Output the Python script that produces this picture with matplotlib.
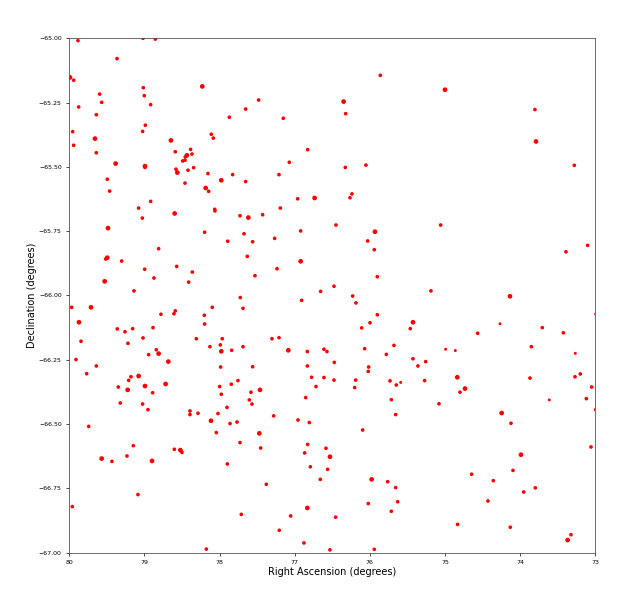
import numpy as np
import matplotlib
matplotlib.use('Agg')
import matplotlib.pyplot as plt

# star positions (degrees)
ra = [
    79.884, 79.019, 78.855, 79.365, 79.991, 79.942, 79.015, 79.596, 79.002, 79.569,
    78.917, 79.875, 79.640, 78.988, 79.024, 79.955, 79.658, 78.647, 79.942, 78.589,
    78.385, 79.640, 78.434, 78.367, 78.456, 78.491, 78.460, 79.383, 78.993, 78.993,
    78.580, 78.562, 78.420, 78.345, 79.494, 78.460, 79.463, 78.917, 79.077,
    78.230, 77.480, 77.653, 77.870, 77.152, 78.110, 78.083, 76.828, 77.072, 78.154,
    77.826, 77.209, 77.977, 77.653, 78.185, 78.145, 76.735, 76.961, 78.065, 77.192,
    75.861, 75.000, 76.349, 76.322, 76.052, 76.327, 76.238, 76.264,
    73.803, 73.789, 73.279,
    78.598, 79.028, 79.485, 78.811, 79.494, 79.516, 79.303, 78.571, 78.997, 78.363,
    78.873, 79.529, 78.411, 79.139, 79.968, 79.711, 78.589, 78.607, 78.780, 79.871,
    79.361, 79.157, 78.886, 79.259, 79.844, 79.219, 79.019, 78.309, 78.842, 78.811,
    78.944, 79.911, 78.682, 79.640, 79.769, 79.077, 79.179, 79.210,
    78.061, 77.728, 77.617, 77.427, 78.199, 77.675, 76.921, 77.892, 77.560, 77.267,
    77.631, 76.921, 77.236, 77.529, 76.655, 77.724, 76.908, 78.097, 77.688, 78.203,
    78.199, 77.964, 77.302, 77.209, 78.128, 77.990, 77.688, 77.977, 77.839, 77.085,
    76.832, 76.611, 76.571, 77.986, 77.560, 76.832, 77.755, 76.775, 76.611,
    76.451, 75.058, 75.932, 76.029, 75.941, 75.901, 76.477, 75.187, 76.229, 76.185,
    75.901, 75.998, 75.426, 76.109, 75.462, 75.679, 76.069, 74.991, 74.863, 75.781,
    76.473, 75.426, 75.257, 76.016, 75.360, 76.021, 76.477, 76.189, 75.732, 75.590,
    75.271, 74.836,
    73.102, 73.390, 74.135, 74.268, 74.565, 73.705, 73.425, 73.851, 73.266, 73.869,
    73.270, 73.199, 72.990,
    79.348, 79.223, 78.993, 78.891, 78.718, 79.321, 79.024, 78.953, 78.394, 78.394,
    78.287, 79.742, 79.148, 78.602, 78.522, 78.500, 79.232, 79.569, 79.432, 78.899,
    79.086, 79.960,
    77.999, 77.844, 77.462, 77.582, 76.717, 77.977, 77.604, 77.569, 76.854, 77.901,
    78.021, 78.114, 77.861, 77.768, 77.280, 76.956, 76.806, 78.043, 77.471, 77.728,
    77.453, 76.828, 76.868, 76.584, 76.531, 77.897, 76.792, 76.562, 76.659, 77.378,
    76.832, 77.711, 77.054, 77.205, 76.877, 78.176, 76.531,
    75.648, 76.202, 74.801, 75.714, 75.080, 75.657, 76.096, 75.976, 75.763, 75.657,
    75.630, 76.021, 75.714, 76.455, 74.832, 75.941,
    74.734, 73.048, 73.612, 73.119, 72.995, 74.246, 74.122, 73.057, 73.989, 74.645,
    74.095, 74.357, 73.798, 73.953, 74.428, 74.131, 73.323, 73.368,
]

dec = [
    -65.009, -65.000, -65.003, -65.079, -65.152, -65.163, -65.192, -65.217, -65.223, -65.249,
    -65.258, -65.267, -65.297, -65.338, -65.362, -65.363, -65.390, -65.397, -65.416, -65.441,
    -65.432, -65.445, -65.455, -65.450, -65.461, -65.477, -65.474, -65.487, -65.497, -65.502,
    -65.509, -65.522, -65.513, -65.503, -65.548, -65.563, -65.594, -65.634, -65.660,
    -65.187, -65.240, -65.275, -65.307, -65.311, -65.373, -65.388, -65.433, -65.482, -65.526,
    -65.530, -65.530, -65.552, -65.557, -65.582, -65.595, -65.621, -65.624, -65.665, -65.660,
    -65.144, -65.200, -65.246, -65.293, -65.493, -65.502, -65.605, -65.620,
    -65.277, -65.401, -65.494,
    -65.681, -65.699, -65.738, -65.818, -65.853, -65.858, -65.866, -65.887, -65.898, -65.909,
    -65.932, -65.945, -65.948, -65.982, -66.046, -66.046, -66.060, -66.071, -66.073, -66.104,
    -66.130, -66.129, -66.125, -66.141, -66.178, -66.186, -66.165, -66.168, -66.211, -66.226,
    -66.230, -66.249, -66.257, -66.274, -66.304, -66.313, -66.316, -66.330,
    -65.671, -65.690, -65.697, -65.686, -65.754, -65.760, -65.749, -65.789, -65.791, -65.778,
    -65.848, -65.867, -65.896, -65.923, -65.984, -66.008, -66.019, -66.046, -66.050, -66.077,
    -66.111, -66.168, -66.168, -66.164, -66.199, -66.192, -66.199, -66.217, -66.213, -66.213,
    -66.218, -66.209, -66.218, -66.278, -66.277, -66.274, -66.331, -66.318, -66.319,
    -65.726, -65.726, -65.752, -65.788, -65.822, -65.927, -65.964, -65.982, -66.002, -66.029,
    -66.075, -66.106, -66.104, -66.126, -66.129, -66.194, -66.207, -66.209, -66.214, -66.229,
    -66.260, -66.246, -66.257, -66.278, -66.274, -66.295, -66.329, -66.329, -66.332, -66.338,
    -66.331, -66.318,
    -65.805, -65.830, -66.003, -66.110, -66.147, -66.125, -66.145, -66.199, -66.225, -66.321,
    -66.316, -66.305, -66.072,
    -66.356, -66.367, -66.352, -66.378, -66.344, -66.418, -66.422, -66.444, -66.449, -66.463,
    -66.458, -66.509, -66.584, -66.598, -66.601, -66.610, -66.624, -66.634, -66.645, -66.643,
    -66.774, -66.821,
    -66.354, -66.345, -66.367, -66.376, -66.354, -66.384, -66.406, -66.422, -66.397, -66.435,
    -66.459, -66.487, -66.498, -66.492, -66.468, -66.484, -66.494, -66.533, -66.536, -66.572,
    -66.593, -66.579, -66.612, -66.594, -66.627, -66.655, -66.666, -66.676, -66.715, -66.734,
    -66.826, -66.851, -66.857, -66.913, -66.962, -66.986, -66.989,
    -66.348, -66.358, -66.376, -66.405, -66.421, -66.463, -66.523, -66.715, -66.724, -66.747,
    -66.802, -66.809, -66.839, -66.862, -66.890, -66.987,
    -66.362, -66.356, -66.406, -66.401, -66.444, -66.457, -66.497, -66.589, -66.619, -66.695,
    -66.680, -66.720, -66.748, -66.764, -66.799, -66.901, -66.930, -66.951,
]

# brightness class of each star: 1 faint, 2 normal, 3 bright
bright = [
    2, 2, 2, 2, 3, 2, 2, 2, 2, 2,
    2, 2, 2, 2, 2, 2, 3, 3, 2, 2,
    2, 2, 3, 2, 2, 2, 2, 3, 3, 2,
    2, 3, 2, 2, 2, 2, 2, 2, 2,
    3, 2, 2, 2, 2, 2, 2, 2, 2, 2,
    2, 2, 3, 2, 3, 2, 3, 2, 2, 2,
    2, 3, 3, 2, 2, 2, 2, 2,
    2, 3, 2,
    3, 2, 3, 2, 3, 2, 2, 2, 2, 2,
    2, 3, 2, 2, 2, 3, 2, 2, 2, 3,
    2, 2, 2, 2, 2, 2, 2, 2, 2, 3,
    2, 2, 3, 2, 2, 3, 2, 2,
    2, 2, 3, 2, 2, 2, 2, 2, 2, 2,
    2, 3, 2, 2, 2, 2, 2, 2, 2, 2,
    2, 2, 2, 2, 2, 2, 2, 3, 2, 3,
    2, 2, 2, 2, 2, 2, 2, 2, 2,
    2, 2, 3, 2, 2, 2, 2, 2, 2, 2,
    2, 2, 3, 2, 2, 2, 2, 1, 1, 2,
    2, 2, 2, 2, 2, 2, 2, 2, 2, 1,
    2, 3,
    2, 2, 3, 1, 2, 2, 2, 2, 1, 2,
    2, 2, 2,
    2, 3, 3, 2, 3, 2, 2, 2, 2, 2,
    2, 2, 2, 2, 3, 2, 2, 3, 2, 3,
    2, 2,
    2, 2, 3, 2, 2, 2, 2, 2, 2, 2,
    2, 3, 2, 2, 2, 2, 2, 2, 3, 2,
    2, 2, 2, 2, 3, 2, 2, 2, 2, 2,
    3, 2, 2, 2, 2, 2, 2,
    2, 2, 2, 2, 2, 2, 2, 3, 2, 2,
    2, 2, 2, 2, 2, 2,
    3, 2, 1, 2, 2, 3, 2, 2, 3, 2,
    2, 2, 2, 2, 2, 2, 2, 3,
]

area = {1: 4.5, 2: 7.0, 3: 11.5}
sizes = [area[b] for b in bright]

fig = plt.figure(figsize=(6.23, 5.92), dpi=100)
ax = fig.add_axes([0.1112, 0.0664, 0.8443, 0.8689])

ax.scatter(ra, dec, s=sizes, c='red', linewidths=0)

ax.set_xlim(80, 73)
ax.set_ylim(-67, -65)
ax.set_xticks(np.arange(80, 72.9, -1))
ax.set_xticklabels([str(v) for v in range(80, 72, -1)])
ax.set_yticks(np.arange(-67, -64.99, 0.25))
ax.set_yticklabels(['{:.2f}'.format(v).replace('-', '\u2212') for v in np.arange(-67, -64.99, 0.25)])

ax.tick_params(labelsize=4.5, length=2, width=0.5)
for sp in ax.spines.values():
    sp.set_linewidth(0.6)
    sp.set_color('#555555')

ax.set_xlabel('Right Ascension (degrees)', fontsize=7, labelpad=1.5)
ax.set_ylabel('Declination (degrees)', fontsize=7, labelpad=1)

fig.savefig('out.png', dpi=100)
plt.close()
